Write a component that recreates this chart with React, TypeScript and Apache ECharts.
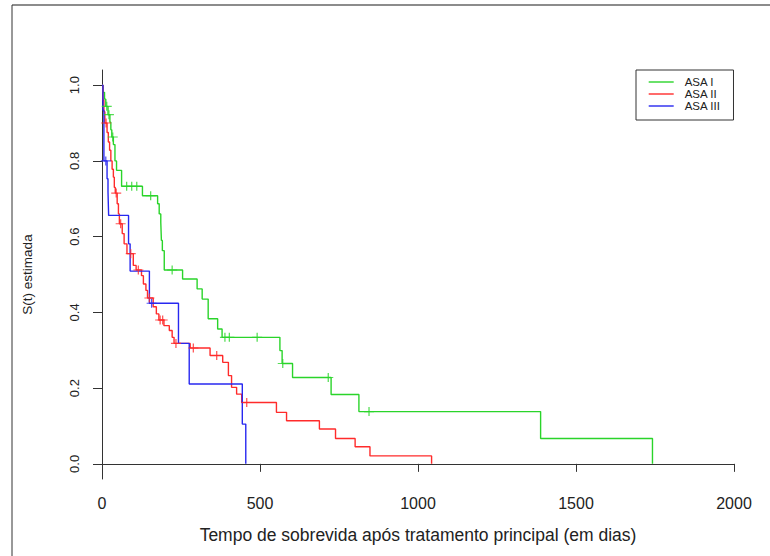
import React, { useEffect, useRef } from "react";
import * as echarts from "echarts";

// ASA I (green) — step times (days) and estimated survival
const asa1Times = [0, 3, 8, 12, 19, 25, 28, 31, 36, 41, 46, 62, 128, 176, 181, 186, 188, 191, 197, 255, 301, 317, 336, 366, 380, 563, 570, 603, 725, 813, 1388, 1742];
const asa1Surv = [1.0, 0.981, 0.963, 0.944, 0.922, 0.902, 0.882, 0.863, 0.843, 0.8, 0.775, 0.733, 0.708, 0.687, 0.66, 0.638, 0.59, 0.563, 0.512, 0.488, 0.462, 0.435, 0.383, 0.356, 0.334, 0.299, 0.265, 0.228, 0.183, 0.138, 0.067, 0.0];
const asa1CensorTimes = [15, 22, 34, 78, 94, 110, 154, 222, 389, 403, 491, 572, 716, 845];
const asa1CensorSurv = [0.944, 0.922, 0.863, 0.733, 0.733, 0.733, 0.708, 0.512, 0.334, 0.334, 0.334, 0.265, 0.228, 0.138];

// ASA II (red)
const asa2Times = [0, 3, 6, 9, 16, 20, 24, 28, 32, 36, 39, 42, 48, 52, 55, 64, 70, 79, 99, 108, 125, 131, 139, 144, 162, 172, 180, 196, 213, 222, 228, 279, 342, 382, 400, 410, 426, 442, 552, 584, 688, 739, 801, 848, 1043];
const asa2Surv = [1.0, 0.96, 0.93, 0.9, 0.875, 0.85, 0.828, 0.8, 0.778, 0.757, 0.73, 0.715, 0.687, 0.66, 0.634, 0.608, 0.581, 0.555, 0.524, 0.512, 0.497, 0.475, 0.458, 0.438, 0.415, 0.396, 0.38, 0.365, 0.352, 0.334, 0.318, 0.306, 0.286, 0.268, 0.233, 0.202, 0.184, 0.162, 0.136, 0.114, 0.092, 0.067, 0.045, 0.021, 0.0];
const asa2CensorTimes = [13, 45, 59, 91, 115, 150, 184, 192, 234, 289, 363, 458];
const asa2CensorSurv = [0.9, 0.715, 0.634, 0.555, 0.512, 0.438, 0.38, 0.38, 0.318, 0.306, 0.286, 0.162];

// ASA III (blue)
const asa3Times = [0, 3, 6, 16, 19, 21, 84, 89, 150, 242, 276, 444, 455];
const asa3Surv = [1.0, 0.934, 0.8, 0.753, 0.718, 0.656, 0.581, 0.509, 0.424, 0.318, 0.211, 0.105, 0.0];
const asa3CensorTimes = [12, 157];
const asa3CensorSurv = [0.8, 0.424];

const groupNames = ["ASA I", "ASA II", "ASA III"];
const groupColors = ["#2ad42a", "#ff2b2b", "#2828f0"];

const yTicks = [0, 0.2, 0.4, 0.6, 0.8, 1.0];

const zip = (a: number[], b: number[]) => a.map((v, i) => [v, b[i]]);

const FONT = "'Liberation Sans', Arial, sans-serif";
const CROSS = "path://M5 0 L5 10 M0 5 L10 5";

export default function App() {
  const ref = useRef<HTMLDivElement>(null);
  useEffect(() => {
    if (!ref.current) return;
    const chart = echarts.init(ref.current, undefined, { renderer: "svg" });
    const steps = [
      zip(asa1Times, asa1Surv),
      zip(asa2Times, asa2Surv),
      zip(asa3Times, asa3Surv),
    ];
    const censors = [
      zip(asa1CensorTimes, asa1CensorSurv),
      zip(asa2CensorTimes, asa2CensorSurv),
      zip(asa3CensorTimes, asa3CensorSurv),
    ];
    const series: any[] = [];
    groupNames.forEach((name, i) => {
      series.push({
        name,
        type: "line",
        step: "end",
        symbol: "none",
        showSymbol: false,
        data: steps[i],
        lineStyle: { color: groupColors[i], width: 1.4 },
        itemStyle: { color: groupColors[i] },
        z: 2,
      });
    });
    groupNames.forEach((name, i) => {
      series.push({
        name: name + " (censura)",
        type: "scatter",
        symbol: CROSS,
        symbolSize: [10, 9],
        data: censors[i],
        itemStyle: { color: groupColors[i], borderColor: groupColors[i], borderWidth: 1.2 },
        z: 3,
      });
    });

    chart.setOption({
      animation: false,
      backgroundColor: "#ffffff",
      textStyle: { fontFamily: FONT },
      grid: { left: 102, top: 70, width: 632, height: 409, containLabel: false },
      xAxis: {
        type: "value",
        min: 0,
        max: 2000,
        interval: 500,
        name: "Tempo de sobrevida após tratamento principal (em dias)",
        nameLocation: "middle",
        nameGap: 47,
        nameTextStyle: { fontSize: 17.5, color: "#222", fontFamily: FONT },
        axisLine: { show: true, lineStyle: { color: "#333", width: 1 } },
        axisTick: { show: true, length: 8, lineStyle: { color: "#333" } },
        axisLabel: {
          show: true,
          margin: 16,
          fontSize: 16,
          color: "#222",
          fontFamily: FONT,
          formatter: (v: number) => String(v),
        },
        splitLine: { show: false },
      },
      yAxis: {
        type: "value",
        min: -0.04,
        max: 1.04,
        name: "S(t) estimada",
        nameLocation: "middle",
        nameGap: 68,
        nameRotate: 90,
        nameTextStyle: { fontSize: 13.5, color: "#222", fontFamily: FONT },
        axisLine: { show: true, lineStyle: { color: "#333", width: 1 } },
        axisTick: { show: true, length: 9, lineStyle: { color: "#333" }, customValues: yTicks },
        axisLabel: {
          show: true,
          rotate: 90,
          margin: 21,
          fontSize: 13,
          color: "#222",
          fontFamily: FONT,
          customValues: yTicks,
          formatter: (v: number) => v.toFixed(1),
        },
        splitLine: { show: false },
      },
      legend: {
        data: groupNames,
        orient: "vertical",
        left: 636,
        top: 70,
        padding: [6, 13, 8, 12],
        itemGap: 0,
        itemWidth: 25,
        itemHeight: 11.5,
        borderColor: "#333",
        borderWidth: 1,
        itemStyle: { opacity: 0 },
        lineStyle: { width: 1.4 },
        textStyle: { fontSize: 11.5, color: "#222", fontFamily: FONT, padding: [0, 0, 0, 6] },
      },
      graphic: [
        { type: "line", shape: { x1: 12, y1: 5, x2: 770, y2: 5 }, style: { stroke: "#666", lineWidth: 1.5 } },
        { type: "line", shape: { x1: 12, y1: 5, x2: 12, y2: 556 }, style: { stroke: "#333", lineWidth: 1 } },
      ],
      series,
    });
    return () => chart.dispose();
  }, []);
  return (
    <div
      ref={ref}
      style={{ position: "fixed", left: 0, top: 0, width: 770, height: 556, background: "#fff" }}
    />
  );
}
